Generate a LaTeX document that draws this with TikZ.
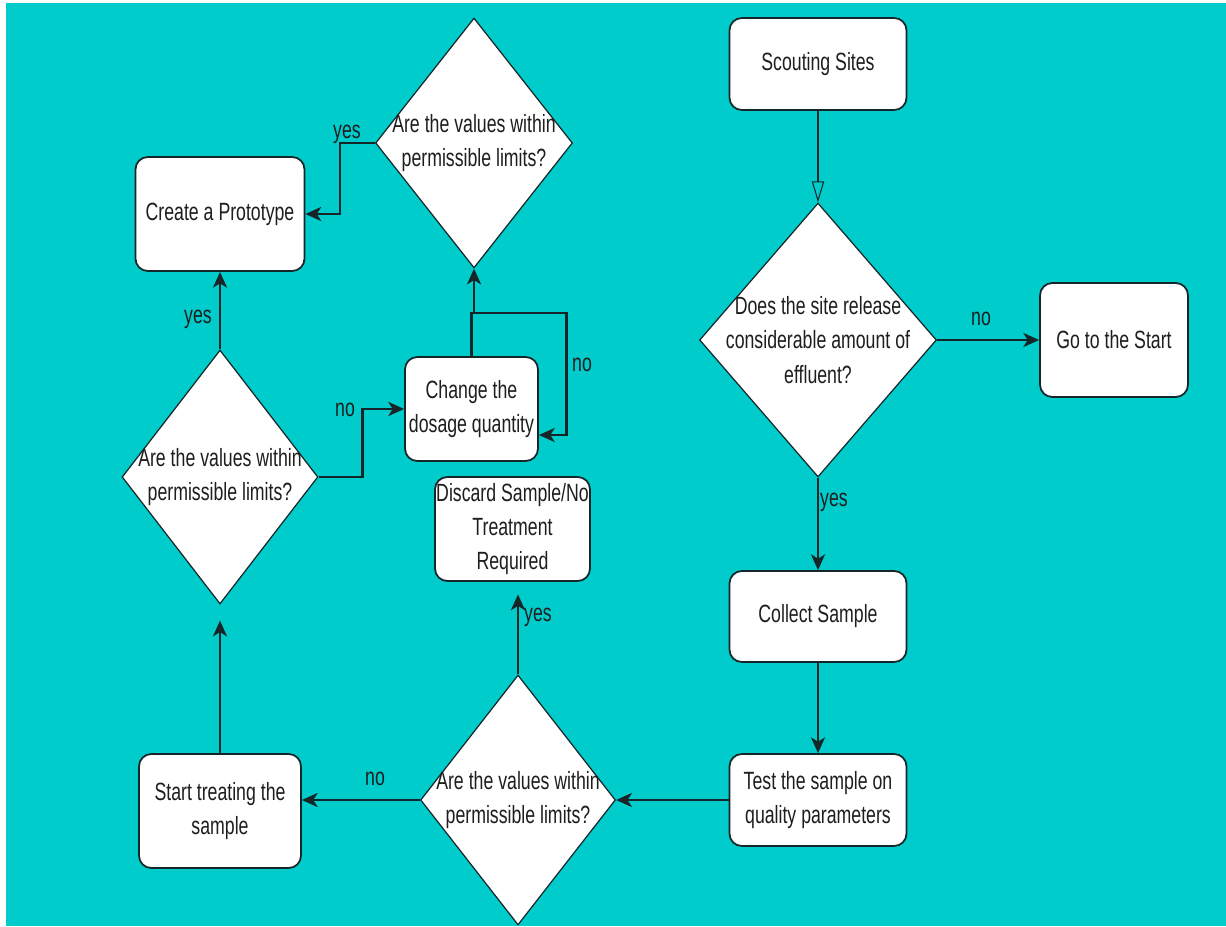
\documentclass[tikz,border=0pt]{standalone}
\usepackage{fontspec}
\setmainfont{Liberation Sans}[FakeStretch=0.71]
\usetikzlibrary{shapes.geometric,arrows.meta,calc}
\definecolor{bgteal}{RGB}{0,204,204}
\definecolor{linec}{RGB}{20,38,40}
\definecolor{txtc}{RGB}{30,30,30}
\begin{document}
\begin{tikzpicture}[x=0.02cm,y=-0.02cm,
 txt/.style={font=\fontsize{14.2pt}{19.5pt}\selectfont, text=txtc, align=center},
 proc/.style={txt, draw=linec, fill=white, rounded corners=7pt, line width=1pt, inner sep=0pt},
 decision/.style={diamond, draw=linec, fill=white, line width=0.7pt, inner sep=0pt},
 conn/.style={draw=linec, line width=1.3pt, -{Stealth[length=9pt,width=8pt,inset=2.5pt]}},
 thinconn/.style={conn, line width=0.8pt},
 lab/.style={txt, inner sep=0pt}
]
\useasboundingbox (0,0) rectangle (1226,926);
\fill[white] (0,0) rectangle (1226,926);
\fill[bgteal] (6,3) rectangle (1226,926);

% process boxes
\node[proc, minimum width=3.54cm, minimum height=1.84cm] (scout) at (818,64) {Scouting Sites};
\node[proc, minimum width=2.96cm, minimum height=2.28cm] (go) at (1114,340) {Go to the Start};
\node[proc, minimum width=3.54cm, minimum height=1.82cm] (collect) at (818,616.5) {Collect Sample};
\node[proc, minimum width=3.54cm, minimum height=1.84cm] (test) at (818,800) {Test the sample on\\quality parameters};
\node[proc, minimum width=3.10cm, minimum height=2.08cm] (discard) at (512.5,529) {Discard Sample/No\\Treatment\\Required};
\node[proc, minimum width=3.24cm, minimum height=2.28cm] (treat) at (220,811) {Start treating the\\sample};
\node[proc, minimum width=3.38cm, minimum height=2.28cm] (proto) at (220,214) {Create a Prototype};
\node[proc, minimum width=2.66cm, minimum height=2.08cm] (change) at (471.5,409) {Change the\\dosage quantity};

% decisions
\node[decision, minimum width=4.74cm, minimum height=5.48cm,
  label={[txt]center:{Does the site release\\considerable amount of\\effluent?}}] (d1) at (818,340) {};
\node[decision, minimum width=3.92cm, minimum height=5.08cm,
  label={[txt]center:{Are the values within\\permissible limits?}}] (d2) at (220,477) {};
\node[decision, minimum width=3.90cm, minimum height=5.00cm,
  label={[txt]center:{Are the values within\\permissible limits?}}] (d3) at (518,800) {};
\node[decision, minimum width=3.94cm, minimum height=5.00cm,
  label={[txt]center:{Are the values within\\permissible limits?}}] (d4) at (474,143) {};

% helper coordinates
\coordinate (j) at (change.north |- 0,313);
\coordinate (dtip) at ($(d3.north)+(0,-80)$);
\coordinate (d2tip) at ($(d2.south)+(0,16)$);

% connectors
\draw[draw=linec, line width=0.6pt, -{Triangle[open,length=12pt,width=7pt]}] (scout.south) -- (d1.north);
\draw[conn] (d1.east) -- (go.west);
\draw[conn] (d1.south) -- (collect.north);
\draw[thinconn] (collect.south) -- (test.north);
\draw[conn] (test.west) -- (d3.east);
\draw[conn] (d3.west) -- (d3.west -| treat.east);
\draw[conn] (d3.north) -- (dtip);
\draw[conn] (treat.north) -- (d2tip);
\draw[conn] (d2.north) -- (proto.south);
\draw[conn] (d2.east) -- ++(44,0) |- (change.west);
\draw[conn] (change.north) -- (j) -| (d4.south);
\draw[conn] (j) -- ++(95,0) |- ($(change.east)+(0,26)$);
\draw[conn] (d4.west) -- ++(-35,0) |- (proto.east);

% labels
\node[lab] (lno1) at (981,319) {no};
\node[lab] (lyes1) at (834,502) {yes};
\node[lab] (lyes3) at (538,617) {yes};
\node[lab] (lno3) at (375,779) {no};
\node[lab] (lyes2) at (198,319) {yes};
\node[lab] (lno2) at (345,410) {no};
\node[lab] (lno4) at (582,365) {no};
\node[lab] (lyes4) at (347,134) {yes};
\end{tikzpicture}
\end{document}
